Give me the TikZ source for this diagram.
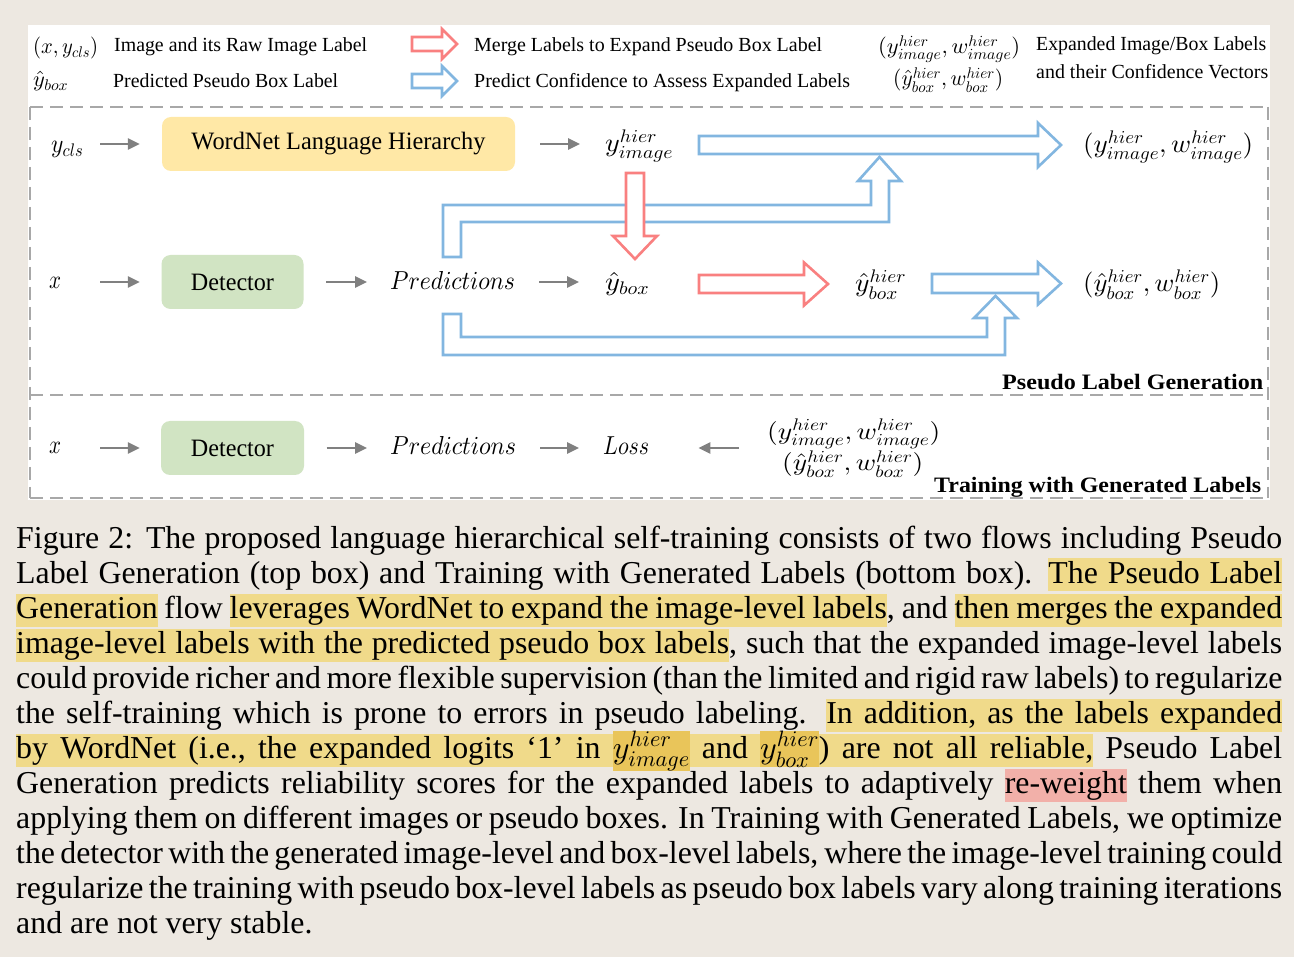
\documentclass[tikz,border=0pt]{standalone}
\usepackage{fontspec}
\setmainfont{Liberation Serif}
\usepackage{graphicx}
\usetikzlibrary{arrows.meta}
\DeclareFontShape{OML}{cmm}{m}{it}{<-6>cmmi5<6-7>cmmi6<7-8>cmmi7<8-9>cmmi8<9-10>cmmi9<10->cmmi10}{}
\DeclareFontShape{OT1}{cmr}{m}{n}{<-6>cmr5<6-7>cmr6<7-8>cmr7<8-9>cmr8<9-10>cmr9<10->cmr10}{}
\DeclareFontShape{OMS}{cmsy}{m}{n}{<-6>cmsy5<6-7>cmsy6<7-8>cmsy7<8-9>cmsy8<9-10>cmsy9<10->cmsy10}{}
\DeclareFontShape{OMX}{cmex}{m}{n}{<->cmex10}{}
\definecolor{bg}{HTML}{EDE8E1}
\definecolor{bl}{HTML}{82B6E0}
\definecolor{rd}{HTML}{F98080}
\definecolor{ga}{HTML}{808080}
\definecolor{dg}{HTML}{A8A8A8}
\definecolor{yb}{HTML}{FFE8A6}
\definecolor{gb}{HTML}{D1E4C3}
\definecolor{hly}{HTML}{F0DA8A}
\definecolor{hld}{HTML}{E9C55A}
\definecolor{hlp}{HTML}{F2B0A9}
\newcommand\fw[2]{\resizebox{#1}{\height}{#2}}
\newcommand\hlstrut{\rule[-8.5pt]{0pt}{33pt}}
\newcommand\hw[2][hly]{{\setlength\fboxsep{0pt}\colorbox{#1}{\hlstrut #2}}}
\newcommand\hsp[1][hly]{{\color{#1}\leaders\vrule height 24.5pt depth 8.5pt\hskip\fontdimen2\font plus\fontdimen3\font minus\fontdimen4\font}}
\def\hlph#1{\hlphi#1 \relax}
\def\hlphi#1 #2\relax{\hw{#1}\ifx\relax#2\relax\else\hsp\hlphi#2\relax\fi}
\newcommand\hollowR[7]{\draw[hol,draw=#7] ({#1},{#3-#4}) -- ({#2-#6},{#3-#4}) -- ({#2-#6},{#3-#5}) -- ({#2},{#3}) -- ({#2-#6},{#3+#5}) -- ({#2-#6},{#3+#4}) -- ({#1},{#3+#4}) -- cycle;}
\newcommand\hollowD[7]{\draw[hol,draw=#7] ({#1-#4},{#2}) -- ({#1+#4},{#2}) -- ({#1+#4},{#3-#6}) -- ({#1+#5},{#3-#6}) -- ({#1},{#3}) -- ({#1-#5},{#3-#6}) -- ({#1-#4},{#3-#6}) -- cycle;}
\begin{document}
\begin{tikzpicture}[x=1pt,y=-1pt,
  leg/.style={inner sep=0, anchor=base west, font=\fontsize{20}{24}\selectfont},
  legm/.style={inner sep=0, anchor=base west, font=\fontsize{22}{26}\selectfont},
  lbl/.style={inner sep=0, anchor=base west, font=\fontsize{26}{30}\selectfont},
  boxnode/.style={rounded corners=9pt, minimum height=54pt, inner sep=0, font=\fontsize{25}{30}\selectfont},
  garrow/.style={draw=ga, line width=2.5pt, -{Triangle[length=12pt,width=11pt]}},
  hol/.style={line width=2.6pt, fill=white, line join=miter},
  dsh/.style={draw=dg, line width=2.5pt, dash pattern=on 13pt off 7pt},
  ttl/.style={inner sep=0, anchor=base west, font=\fontsize{22}{26}\selectfont\bfseries},
  captext/.style={inner sep=0, anchor=base west, font=\fontsize{31.85}{35}\selectfont}]
\fill[bg] (0,0) rectangle (1294,957);
\useasboundingbox (0,0) rectangle (1294,957);
\fill[white] (28,25) rectangle (1270,500);
% dashed frames
\draw[dsh] (30,107) -- (1268,107);
\draw[dsh] (30,395) -- (1268,395);
\draw[dsh] (30,498) -- (1268,498);
\draw[dsh] (30,107) -- (30,498);
\draw[dsh] (1268,107) -- (1268,498);
% legend
\node[legm] (l1) at (33,54) {\fw{65pt}{$(x,y_{cls})$}};
\node[leg] (l2) at (114,52) {\fw{253pt}{Image and its Raw Image Label}};
\node[legm] (l3) at (33,87) {\fw{35pt}{$\hat{y}_{box}$}};
\node[leg] (l4) at (113,88) {\fw{225pt}{Predicted Pseudo Box Label}};
\hollowR{412}{457}{44}{7}{15}{15}{rd}
\hollowR{412}{457}{81}{7}{15}{15}{bl}
\node[leg] (l5) at (474,52) {\fw{348pt}{Merge Labels to Expand Pseudo Box Label}};
\node[leg] (l6) at (474,88) {\fw{376pt}{Predict Confidence to Assess Expanded Labels}};
\node[legm] (l7) at (878,54) {\fw{142pt}{$(y^{hier}_{image},w^{hier}_{image})$}};
\node[legm] (l8) at (893,86) {\fw{110pt}{$(\hat{y}^{hier}_{box},w^{hier}_{box})$}};
\node[leg] (l9) at (1036,51) {\fw{230pt}{Expanded Image/Box Labels}};
\node[leg] (l10) at (1036,79) {\fw{232pt}{and their Confidence Vectors}};
% hollow connectors
\draw[hol,draw=bl] (443,257) -- (443,205) -- (871,205) -- (871,181) -- (858,181) -- (879.5,157) -- (901,181) -- (889,181) -- (889,222) -- (461,222) -- (461,257) -- cycle;
\draw[hol,draw=bl] (443,314) -- (443,355) -- (1005,355) -- (1005,318) -- (1017,318) -- (995.5,296) -- (974,318) -- (987,318) -- (987,337) -- (461,337) -- (461,314) -- cycle;
\hollowD{635}{173}{259}{9}{22}{23}{rd}
\hollowR{699}{1061}{145}{9}{22}{23}{bl}
\hollowR{699}{828}{284}{9}{21.5}{24}{rd}
\hollowR{932}{1061}{283.5}{9.5}{21}{23}{bl}
% row 1
\node[lbl] (ycls) at (51,153) {\fw{32pt}{$y_{cls}$}};
\node[boxnode, fill=yb, minimum width=353pt] (wordnet) at (338.5,144) {\fw{294pt}{WordNet Language Hierarchy}};
\node[lbl] (yimg) at (605,152) {\fw{68pt}{$y^{hier}_{image}$}};
\node[lbl] (out1) at (1083,153) {\fw{170pt}{$(y^{hier}_{image},w^{hier}_{image})$}};
\draw[garrow, shorten <=17pt, shorten >=22pt] (ycls.east |- wordnet.west) -- (wordnet.west);
\draw[garrow, shorten <=25pt, shorten >=25pt] (wordnet.east) -- (yimg.west |- wordnet.east);
% row 2
\node[lbl] (x1) at (49,289) {\fw{12pt}{$x$}};
\node[boxnode, fill=gb, minimum width=142pt] (det1) at (232.5,282) {\fw{83pt}{Detector}};
\node[lbl] (pred1) at (390,290) {\fw{125pt}{$Predictions$}};
\node[lbl] (ybox) at (605,291) {\fw{44pt}{$\hat{y}_{box}$}};
\node[lbl] (yboxh) at (855,292) {\fw{51pt}{$\hat{y}^{hier}_{box}$}};
\node[lbl] (out2) at (1083,292) {\fw{137pt}{$(\hat{y}^{hier}_{box},w^{hier}_{box})$}};
\draw[garrow, shorten <=39pt, shorten >=21.5pt] (x1.east |- det1.west) -- (det1.west);
\draw[garrow, shorten <=22.5pt, shorten >=23pt] (det1.east) -- (pred1.west |- det1.east);
\draw[garrow, shorten <=24pt, shorten >=26pt] (pred1.east |- det1.east) -- (ybox.west |- det1.east);
\node[ttl] (plg) at (1002,390) {\fw{261pt}{Pseudo Label Generation}};
% row 3
\node[lbl] (x2) at (49,454) {\fw{12pt}{$x$}};
\node[boxnode, fill=gb, minimum width=143pt] (det2) at (232.5,448) {\fw{83pt}{Detector}};
\node[lbl] (pred2) at (390,455) {\fw{126pt}{$Predictions$}};
\node[lbl] (loss) at (603,454) {\fw{46pt}{$Loss$}};
\node[legm, font=\fontsize{24}{28}\selectfont] (tl1) at (767,439) {\fw{173pt}{$(y^{hier}_{image},w^{hier}_{image})$}};
\node[legm, font=\fontsize{24}{28}\selectfont] (tl2) at (782,471) {\fw{141pt}{$(\hat{y}^{hier}_{box},w^{hier}_{box})$}};
\draw[garrow, shorten <=39pt, shorten >=21pt] (x2.east |- det2.west) -- (det2.west);
\draw[garrow, shorten <=22.5pt, shorten >=23pt] (det2.east) -- (pred2.west |- det2.east);
\draw[garrow, shorten <=24pt, shorten >=24pt] (pred2.east |- det2.east) -- (loss.west |- det2.east);
\draw[garrow, shorten <=28pt, shorten >=49pt] (tl1.west |- det2.east) -- (loss.east |- det2.east);
\node[ttl] (twg) at (934,493) {\fw{327pt}{Training with Generated Labels}};
% caption
\node[captext] (c1) at (16,548) {\makebox[1266pt][s]{Figure 2: The proposed language hierarchical self-training consists of two flows including Pseudo}};
\node[captext] (c2) at (16,583) {\makebox[1266pt][s]{Label Generation (top box) and Training with Generated Labels (bottom box). \hlph{The Pseudo Label}}};
\node[captext] (c3) at (16,618) {\makebox[1266pt][s]{\hlph{Generation} flow \hlph{leverages WordNet to expand the image-level labels}, and \hlph{then merges the expanded}}};
\node[captext] (c4) at (16,653) {\makebox[1266pt][s]{\hlph{image-level labels with the predicted pseudo box labels}, such that the expanded image-level labels}};
\node[captext] (c5) at (16,688) {\makebox[1266pt][s]{could provide richer and more flexible supervision (than the limited and rigid raw labels) to regularize}};
\node[captext] (c6) at (16,723) {\makebox[1266pt][s]{the self-training which is prone to errors in pseudo labeling. \hlph{In addition, as the labels expanded}}};
\node[captext] (c7) at (16,758) {\makebox[1266pt][s]{\hlph{by WordNet (i.e., the expanded logits `1' in}\hsp\hw[hld]{$y^{hier}_{image}$}\hsp\hlph{and}\hsp\hw[hld]{$y^{hier}_{box}$}\hlph{) are not all reliable,} Pseudo Label}};
\node[captext] (c8) at (16,793) {\makebox[1266pt][s]{Generation predicts reliability scores for the expanded labels to adaptively \hw[hlp]{re-weight} them when}};
\node[captext] (c9) at (16,828) {\makebox[1266pt][s]{applying them on different images or pseudo boxes. In Training with Generated Labels, we optimize}};
\node[captext] (c10) at (16,863) {\makebox[1266pt][s]{the detector with the generated image-level and box-level labels, where the image-level training could}};
\node[captext] (c11) at (16,898) {\makebox[1266pt][s]{regularize the training with pseudo box-level labels as pseudo box labels vary along training iterations}};
\node[captext] (c12) at (16,933) {and are not very stable.};
\end{tikzpicture}
\end{document}
